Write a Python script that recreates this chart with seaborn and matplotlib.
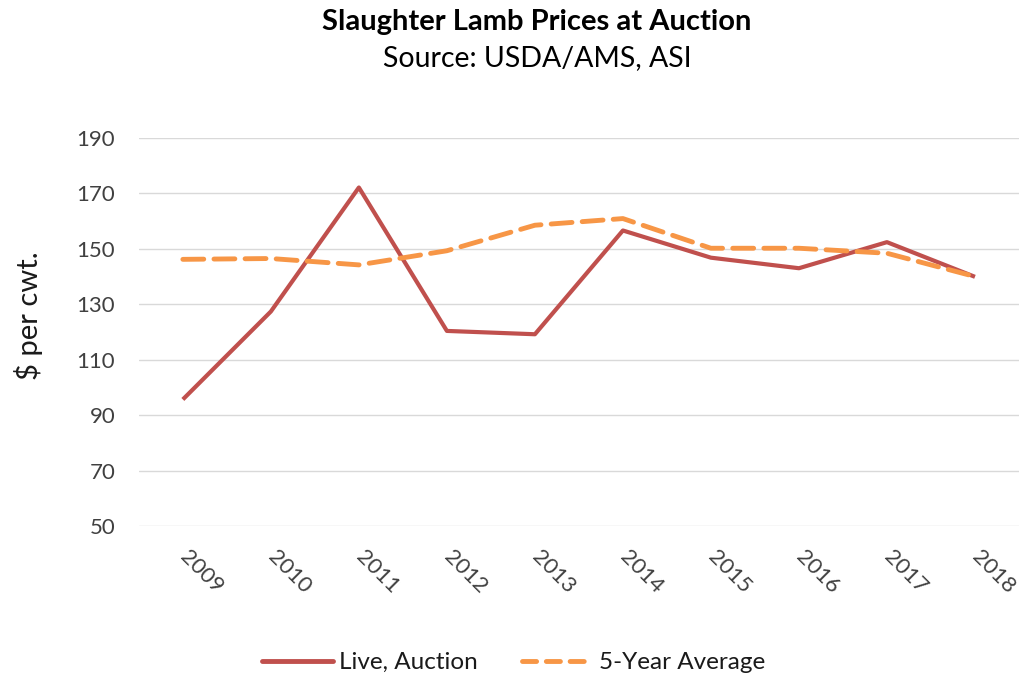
import matplotlib
matplotlib.use("Agg")
import matplotlib.pyplot as plt
import pandas as pd
import seaborn as sns

# --- Data ---
YEARS = ["2009", "2010", "2011", "2012", "2013", "2014", "2015", "2016", "2017", "2018"]
LIVE_AUCTION = [95.7, 127.4, 172.1, 120.4, 119.2, 156.6, 146.8, 143.0, 152.4, 139.9]
FIVE_YEAR_AVG = [146.2, 146.5, 144.2, 149.3, 158.5, 160.9, 150.2, 150.2, 148.4, 140.0]
SERIES_NAMES = ["Live, Auction", "5-Year Average"]
Y_TICKS = [50, 70, 90, 110, 130, 150, 170, 190]

COLORS = {"Live, Auction": "#C0504D", "5-Year Average": "#F79646"}
TEXT = "#1a1a1a"
TICK = "#404040"

sns.set_theme(style="white")
plt.rcParams["font.family"] = ["Lato", "DejaVu Sans"]

df = pd.DataFrame({
    "x": list(range(len(YEARS))) * 2,
    "value": LIVE_AUCTION + FIVE_YEAR_AVG,
    "series": [SERIES_NAMES[0]] * len(YEARS) + [SERIES_NAMES[1]] * len(YEARS),
})

fig = plt.figure(figsize=(10.21, 6.79), dpi=100)
ax = fig.add_axes([0.136, 0.225, 0.862, 0.572])

sns.lineplot(
    data=df, x="x", y="value", hue="series", style="series",
    palette=COLORS, dashes={SERIES_NAMES[0]: "", SERIES_NAMES[1]: (4.3, 2.1)},
    size="series", sizes={SERIES_NAMES[0]: 3.0, SERIES_NAMES[1]: 3.5},
    ax=ax, legend=False,
)
for ln in ax.get_lines():
    ln.set_solid_capstyle("butt")
    ln.set_dash_capstyle("round")

ax.set_xlim(-0.5, len(YEARS) - 0.5)
ax.set_ylim(50, 190)
ax.set_yticks(Y_TICKS)
ax.set_yticklabels([str(t) for t in Y_TICKS], fontsize=16, color=TICK)
ax.set_xticks(range(len(YEARS)))
ax.set_xticklabels(YEARS, rotation=-45, ha="left", va="center",
                   rotation_mode="anchor", fontsize=16, color=TICK)
ax.tick_params(axis="x", length=0, pad=20)
ax.tick_params(axis="y", length=0, pad=17)
ax.grid(axis="y", color="#d9d9d9", linewidth=1)
ax.grid(axis="x", visible=False)
for s in ax.spines.values():
    s.set_visible(False)
ax.set_xlabel("")
ax.set_ylabel("$ per cwt.", fontsize=21, color=TEXT)
ax.yaxis.set_label_coords(-0.109, 0.541)

fig.text(0.526, 0.967, "Slaughter Lamb Prices at Auction", ha="center", va="center",
         fontsize=21, fontweight="bold", color="black")
fig.text(0.526, 0.914, "Source: USDA/AMS, ASI", ha="center", va="center",
         fontsize=20.5, color="black")

handles = [
    plt.Line2D([], [], color=COLORS[SERIES_NAMES[0]], linewidth=3.5),
    plt.Line2D([], [], color=COLORS[SERIES_NAMES[1]], linewidth=3.5,
               dashes=(2.9, 2.0), dash_capstyle="round"),
]
fig.legend(handles, SERIES_NAMES, loc="center", bbox_to_anchor=(0.503, 0.024),
           ncol=2, frameon=False, fontsize=17.5, handlelength=2.9,
           columnspacing=1.85, handletextpad=0.25, labelcolor=TEXT)

fig.savefig("out.png", dpi=100, facecolor="white")
plt.close(fig)
